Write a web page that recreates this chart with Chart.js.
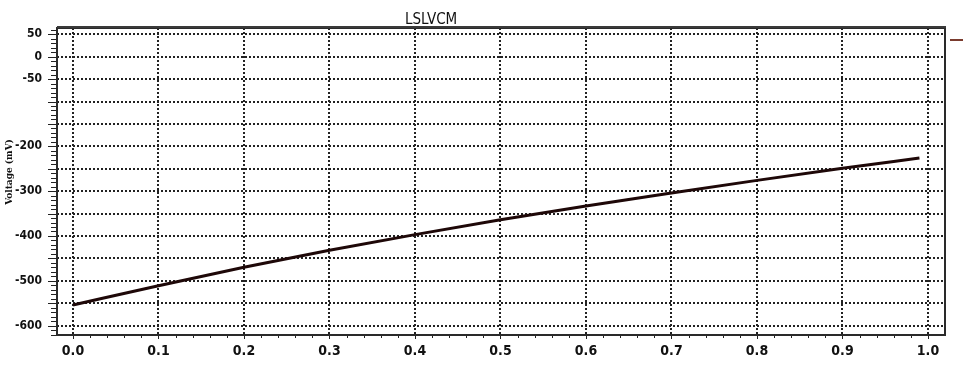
<!DOCTYPE html>
<html>
<head>
<meta charset="utf-8">
<script src="https://cdn.jsdelivr.net/npm/chart.js@4/dist/chart.umd.min.js"></script>
<style>
  html, body { margin: 0; padding: 0; background: #ffffff; }
  #wrap { width: 963px; height: 367px; }
</style>
</head>
<body>
<div id="wrap"><canvas id="c" width="963" height="367"></canvas></div>
<script>
// Sweep positions and the LSLVCM voltage trace (mV)
const sweep = [0.0, 0.1, 0.2, 0.3, 0.4, 0.5, 0.6, 0.7, 0.8, 0.9, 0.99];
const voltage = [-554, -511, -470, -432, -397, -364, -333, -304, -276, -249, -226];

// Axis ticks
const xTicks = [0.0, 0.1, 0.2, 0.3, 0.4, 0.5, 0.6, 0.7, 0.8, 0.9, 1.0];
const yGrid = [50, 0, -50, -100, -150, -200, -250, -300, -350, -400, -450, -500, -550, -600];
const yLabeled = [50, 0, -50, -200, -300, -400, -500, -600];

const chartTitle = 'LSLVCM';
const yTitle = 'Voltage (mV)';

const points = sweep.map((x, i) => ({ x: x, y: voltage[i] }));

// Frame, minor ticks, title and axis title
const decorations = {
  id: 'decorations',
  beforeDatasetsDraw(chart) {
    const { ctx, chartArea: a, scales } = chart;
    const xs = scales.x, ys = scales.y;
    ctx.save();
    ctx.strokeStyle = '#222';
    ctx.lineWidth = 1;
    // minor ticks on the x axis every 0.02
    for (let k = 0; k <= 50; k++) {
      const px = Math.round(xs.getPixelForValue(k * 0.02)) + 0.5;
      ctx.beginPath();
      ctx.moveTo(px, a.bottom);
      ctx.lineTo(px, a.bottom + (k % 5 === 0 ? 4 : 3));
      ctx.stroke();
    }
    // minor ticks on the y axis every 10 mV
    for (let v = 60; v >= -620; v -= 10) {
      const py = Math.round(ys.getPixelForValue(v)) + 0.5;
      ctx.beginPath();
      ctx.moveTo(a.left - (v % 50 === 0 ? 9 : 6), py);
      ctx.lineTo(a.left, py);
      ctx.stroke();
    }
    ctx.restore();
  },
  afterDraw(chart) {
    const { ctx, chartArea: a } = chart;
    ctx.save();
    // plot frame
    ctx.strokeStyle = '#2a2a2a';
    ctx.lineWidth = 2;
    ctx.strokeRect(a.left, a.top, a.right - a.left, a.bottom - a.top);
    ctx.fillStyle = '#3a3a3a';
    ctx.fillRect(a.left, a.top - 2, a.right - a.left + 1, 2);
    // title
    ctx.fillStyle = '#111';
    ctx.font = '15px "DejaVu Sans Condensed"';
    ctx.textAlign = 'left';
    ctx.textBaseline = 'alphabetic';
    ctx.fillText(chartTitle, 405, 24);
    // y axis title
    ctx.translate(10, 172);
    ctx.rotate(-Math.PI / 2);
    ctx.font = 'bold 9px "DejaVu Serif"';
    ctx.textAlign = 'center';
    ctx.textBaseline = 'middle';
    ctx.fillStyle = '#111';
    ctx.fillText(yTitle, 0, 0);
    ctx.restore();
    // legend swatch at the right edge
    ctx.save();
    ctx.strokeStyle = '#7a3b2e';
    ctx.lineWidth = 2;
    ctx.beginPath();
    ctx.moveTo(950, 40);
    ctx.lineTo(963, 40);
    ctx.stroke();
    ctx.restore();
  }
};

new Chart(document.getElementById('c'), {
  type: 'scatter',
  data: {
    datasets: [{
      label: chartTitle,
      data: points,
      showLine: true,
      borderColor: '#1e0808',
      borderWidth: 3,
      pointRadius: 0,
      cubicInterpolationMode: 'monotone',
      fill: false
    }]
  },
  options: {
    responsive: false,
    animation: false,
    events: [],
    layout: { padding: { left: 0, right: 18, top: 28, bottom: 0 } },
    plugins: {
      legend: { display: false },
      title: { display: false },
      tooltip: { enabled: false }
    },
    scales: {
      x: {
        type: 'linear',
        min: -0.0187,
        max: 1.0199,
        afterBuildTicks(s) { s.ticks = xTicks.map(v => ({ value: v })); },
        afterFit(s) { s.height = 32; },
        border: { display: false, dash: [2, 2] },
        grid: {
          color: '#222',
          lineWidth: 2,
          drawTicks: false
        },
        ticks: {
          color: '#111',
          font: { family: '"DejaVu Sans Condensed"', size: 14, weight: 'bold' },
          padding: 8,
          maxRotation: 0,
          callback: v => Number(v).toFixed(1)
        }
      },
      y: {
        type: 'linear',
        min: -621,
        max: 64,
        afterBuildTicks(s) { s.ticks = yGrid.map(v => ({ value: v })); },
        afterFit(s) { s.width = 57; },
        border: { display: false, dash: [2, 2] },
        grid: {
          color: '#222',
          lineWidth: 2,
          drawTicks: false
        },
        ticks: {
          color: '#111',
          font: { family: '"DejaVu Sans Condensed"', size: 12, weight: 'bold' },
          padding: 15,
          autoSkip: false,
          callback: v => (yLabeled.includes(v) ? String(v) : '')
        }
      }
    }
  },
  plugins: [decorations]
});
</script>
</body>
</html>
